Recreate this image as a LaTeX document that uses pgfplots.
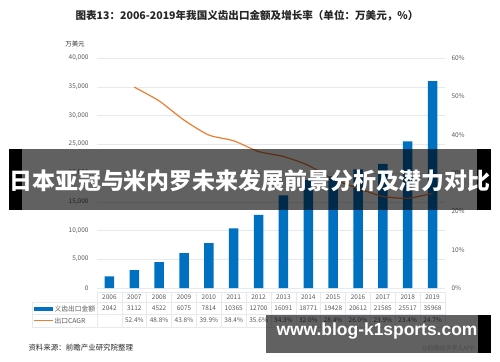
\documentclass[border=0pt]{standalone}
\usepackage{pgfplots}
\pgfplotsset{compat=1.18}
\usepackage{fontspec}
\setmainfont{Noto Sans CJK SC}
\newfontfamily\latinbold{Liberation Sans}
\definecolor{barblue}{HTML}{0070C0}
\definecolor{lineorange}{HTML}{ED7D31}
\definecolor{gridc}{HTML}{E6EAF0}
\definecolor{txt}{HTML}{595959}
\begin{document}
\begin{tikzpicture}
\path[use as bounding box] (0bp,0bp) rectangle (500bp,-362bp);
\begin{axis}[
  at={(97bp,-288bp)}, anchor=south west,
  scale only axis, width=348bp, height=230bp,
  xmin=-0.5, xmax=13.5, ymin=0, ymax=40000,
  axis x line*=bottom, axis y line*=left,
  x axis line style={draw=gridc}, y axis line style={draw=none},
  xtick=\empty,
  ytick={0,5000,...,40000},
  ymajorgrids, grid style={draw=gridc, line width=0.5pt},
  major tick length=0pt,
  yticklabel style={font=\fontsize{6.5}{7}\selectfont, text=txt, xshift=-5bp},
  /pgf/number format/1000 sep={,},
  /pgf/number format/assume math mode=true,
  scaled y ticks=false,
]
\addplot[ybar, bar width=9.5bp, fill=barblue, draw=none] coordinates {
(0,2042) (1,3112) (2,4522) (3,6075) (4,7814) (5,10365) (6,12700)
(7,16091) (8,18771) (9,19428) (10,20612) (11,21585) (12,25517) (13,35968)};
\end{axis}
\begin{axis}[
  at={(97bp,-288bp)}, anchor=south west,
  scale only axis, width=348bp, height=230bp,
  xmin=-0.5, xmax=13.5, ymin=0, ymax=60,
  axis x line=none, axis y line*=right,
  y axis line style={draw=none},
  xtick=\empty, ytick={0,10,...,60},
  yticklabel={\pgfmathprintnumber{\tick}\%},
  major tick length=0pt,
  yticklabel style={font=\fontsize{6.5}{7}\selectfont, text=txt, xshift=3bp},
  /pgf/number format/assume math mode=true,
]
\addplot[lineorange, line width=1.2pt, smooth, tension=0.4, mark=none] coordinates {
(1,52.4) (2,48.8) (3,43.8) (4,39.9) (5,38.4) (6,35.6) (7,34.3)
(8,32.0) (9,28.4) (10,26.0) (11,23.9) (12,23.4) (13,24.7)};
\end{axis}
\begin{scope}[x=1bp,y=-1bp]
  % title
  \node[font=\fontsize{10.6}{12}\selectfont\bfseries, text=black!85] at (247,16) {图表13：2006-2019年我国义齿出口金额及增长率（单位：万美元，\%）};
  \node[font=\fontsize{6.5}{7}\selectfont, text=black!80] at (75,44) {万美元};
  % data table grid
  \draw[gridc, line width=0.5pt] (97,292) -- (445,292);
  \draw[gridc, line width=0.5pt] (32,302.5) -- (445,302.5);
  \draw[gridc, line width=0.5pt] (32,314) -- (445,314);
  \draw[gridc, line width=0.5pt] (32,327) -- (445,327);
  \draw[gridc, line width=0.5pt] (32,302.5) -- (32,327);
  \foreach \i in {0,...,14} {\draw[gridc, line width=0.5pt] ({97+24.857*\i},292) -- ({97+24.857*\i},327);}
  \foreach \y [count=\i from 0] in {2006,2007,2008,2009,2010,2011,2012,2013,2014,2015,2016,2017,2018,2019}
    {\node[font=\fontsize{6.5}{7}\selectfont, text=txt] at ({109.43+24.857*\i},297.5) {\y};}
  \foreach \v [count=\i from 0] in {2042,3112,4522,6075,7814,10365,12700,16091,18771,19428,20612,21585,25517,35968}
    {\node[font=\fontsize{6.5}{7}\selectfont, text=txt] at ({109.43+24.857*\i},308.5) {\v};}
  \foreach \v [count=\i from 1] in {52.4,48.8,43.8,39.9,38.4,35.6,34.3,32.0,28.4,26.0,23.9,23.4,24.7}
    {\node[font=\fontsize{6.5}{7}\selectfont, text=txt] at ({109.43+24.857*\i},320.5) {\v\%};}
  \fill[barblue] (34,306.5) rectangle (53,310.5);
  \draw[lineorange, line width=1.2pt] (34,320.5) -- (53,320.5);
  \node[font=\fontsize{6.8}{7}\selectfont, text=txt, anchor=west] at (51,308.5) {义齿出口金额};
  \node[font=\fontsize{6.8}{7}\selectfont, text=txt, anchor=west] at (51,320.5) {出口CAGR};
  % source
  \node[font=\fontsize{7.5}{9}\selectfont, text=black!85, anchor=west] at (25,348) {资料来源：前瞻产业研究院整理};
  % banner overlay
  \fill[black, opacity=0.62] (22,149) rectangle (477,210);
  \fill[black] (9,149) rectangle (22,210);
  \fill[black] (477,149) rectangle (491,210);
  \node[font=\fontsize{23}{25}\selectfont\bfseries, text=white] at (250,181) {日本亚冠与米内罗未来发展前景分析及潜力对比};
  % watermark box
  \fill[black, opacity=0.62] (266,315) rectangle (478,353);
  \fill[black] (478,315) rectangle (491,353);
  \node[font=\latinbold\fontsize{17.5}{19}\selectfont\bfseries, text=white] at (377,331) {www.blog-k1sports.com};
  \node[font=\fontsize{6}{7}\selectfont, text=black!70, anchor=east] at (478,348) {@前瞻经济学人APP};
\end{scope}
\end{tikzpicture}
\end{document}
